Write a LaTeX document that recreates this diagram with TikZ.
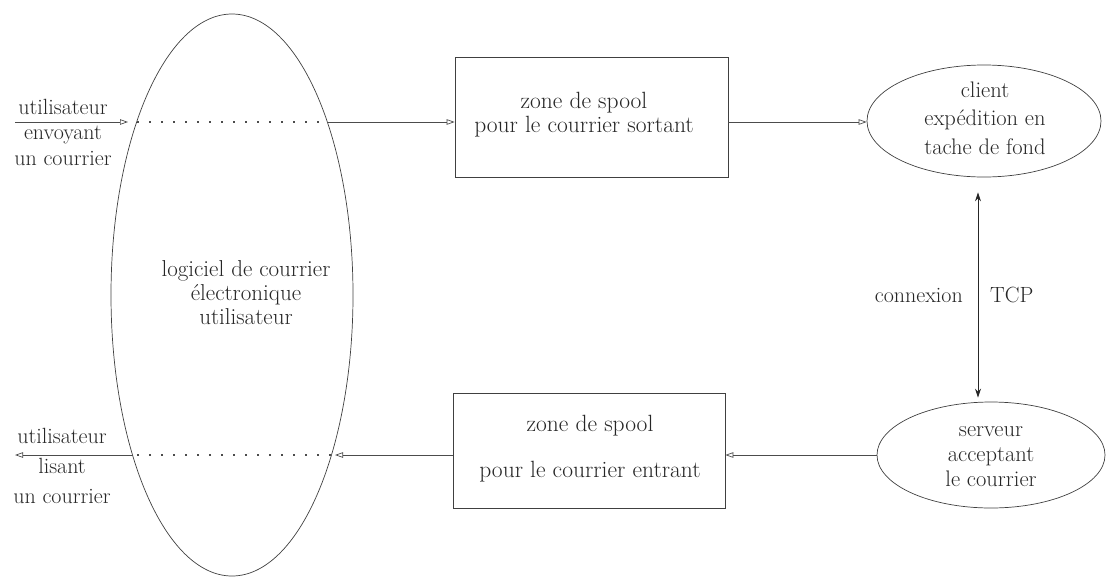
\documentclass[tikz,border=0pt]{standalone}
\usetikzlibrary{arrows.meta,shapes.geometric}
\begin{document}
\begin{tikzpicture}[x=1pt,y=-1pt,
  every node/.style={text=black!85},
  shapeline/.style={draw=black!75, line width=0.7pt, inner sep=0pt},
  flow/.style={draw=black!70, line width=0.7pt, -{Triangle[open,length=8pt,width=5.5pt]}},
  throughline/.style={draw=black!70, line width=1.1pt, dash pattern=on 2pt off 10pt},
  tcparrow/.style={draw=black!85, line width=0.9pt, {Stealth[length=9pt,width=6pt]}-{Stealth[length=9pt,width=6pt]}},
  txt/.style={align=center, inner sep=0pt}]
\useasboundingbox (0,0) rectangle (1107,576);

% shapes
\node[shapeline, ellipse, minimum width=242pt, minimum height=562pt] (mua) at (232,295) {};
\node[shapeline, rectangle, minimum width=273pt, minimum height=120pt] (outspool) at (591.5,117) {};
\node[shapeline, rectangle, minimum width=272pt, minimum height=115pt] (inspool) at (589,450.5) {};
\node[shapeline, ellipse, minimum width=234pt, minimum height=112pt] (client) at (984,121) {};
\node[shapeline, ellipse, minimum width=228pt, minimum height=106pt] (server) at (991,455) {};

% texts
\node[txt, font=\fontsize{22}{25.5}\selectfont] (sendlbl) at (63,132) {utilisateur\\envoyant\\un courrier};
\node[txt, font=\fontsize{22}{30}\selectfont] (readlbl) at (62,466) {utilisateur\\lisant\\un courrier};
\node[txt, font=\fontsize{23}{24}\selectfont] (mualbl) at (246,293) {logiciel de courrier\\électronique\\utilisateur};
\node[txt, font=\fontsize{23.5}{24}\selectfont] (outlbl) at (584,114.7) {zone de spool\\pour le courrier sortant};
\node[txt, font=\fontsize{23.5}{46}\selectfont] (inlbl) at (590,449) {zone de spool\\pour le courrier entrant};
\node[txt, font=\fontsize{22.5}{28.5}\selectfont] (clientlbl) at (985,118) {client\\expédition en\\tache de fond};
\node[txt, font=\fontsize{22.5}{25}\selectfont] (serverlbl) at (991,457) {serveur\\acceptant\\le courrier};
\node[txt, font=\fontsize{22}{25}\selectfont, anchor=east] (cnxlbl) at (963,295) {connexion};
\node[txt, font=\fontsize{22}{25}\selectfont, anchor=west] (tcplbl) at (990,295) {TCP};

% free ends and crossings of the big ellipse
\coordinate (senduser) at (15,122);
\coordinate (crossUL) at (137,122);
\coordinate (crossUR) at (327,122);
\coordinate (readuser) at (15,455);
\coordinate (crossLL) at (133,455);
\coordinate (crossLR) at (331,455);
\coordinate (tcpx) at (978,0);

% outgoing mail
\draw[flow, shorten >=9pt] (senduser) -- (crossUL);
\draw[throughline] (crossUL) -- (crossUR);
\draw[flow] (crossUR) -- (crossUR -| outspool.west);
\draw[flow] (outspool.east |- crossUR) -- (client.west |- crossUR);

% TCP connection
\draw[tcparrow, shorten <=15pt, shorten >=4pt] (client.south -| tcpx) -- (server.north -| tcpx);

% incoming mail
\draw[flow] (server.west) -- (inspool.east |- server.west);
\draw[flow, shorten >=4pt] (inspool.west |- crossLR) -- (crossLR);
\draw[throughline] (crossLR) -- (crossLL);
\draw[flow] (crossLL) -- (readuser);
\end{tikzpicture}
\end{document}
